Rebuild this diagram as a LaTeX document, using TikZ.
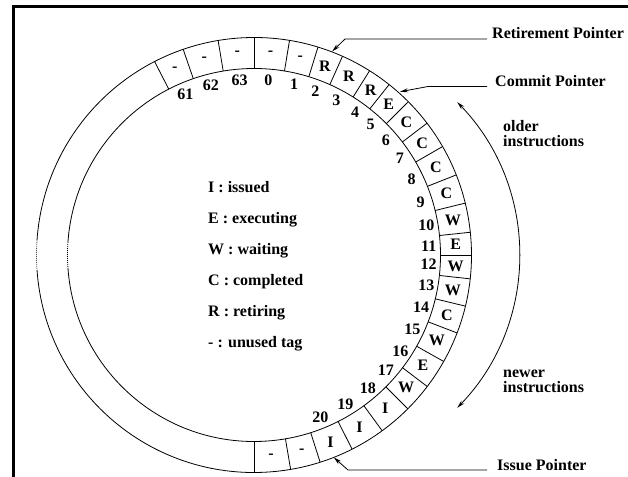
\documentclass[tikz,border=0pt]{standalone}
\usepackage{fontspec}
\setmainfont{Liberation Serif}
\usetikzlibrary{arrows.meta}
\begin{document}
\begin{tikzpicture}[x=1pt,y=1pt,
  ring/.style={line width=0.8pt},
  dotarc/.style={line width=0.8pt, dash pattern=on 0.8pt off 1.2pt},
  lbl/.style={font=\fontsize{16}{15}\selectfont\bfseries, inner sep=0pt},
  ptr/.style={line width=0.8pt, -{Stealth[length=8pt,width=4pt]}},
  dbl/.style={line width=0.8pt, {Stealth[length=8pt,width=4pt]}-{Stealth[length=8pt,width=4pt]}},
]
\useasboundingbox (0,0) rectangle (628,476);
\clip (0,0) rectangle (628,476);
% frame (cropped on right and bottom)
\draw[line width=3pt] (640,469) -- (13.5,469) -- (13.5,-10);
\coordinate (C) at (254,221);
% ring circles
\draw[ring] ([shift={(-176:217.5)}]C) arc[start angle=-176,end angle=176,radius=217.5];
\draw[ring] ([shift={(-176:186.5)}]C) arc[start angle=-176,end angle=176,radius=186.5];
\draw[dotarc] ([shift={(176:217.5)}]C) arc[start angle=176,end angle=184,radius=217.5];
\draw[dotarc] ([shift={(176:186.5)}]C) arc[start angle=176,end angle=184,radius=186.5];
% slot boundaries
\foreach \b in {117.2,109,99.5,90,80.6,72.9,66,57.9,51.6,44.8,37.3,29.9,21.6,13.8,6,0,-6.3,-13.6,-21,-29.3,-37.2,-45,-53.9,-63.2,-72.3,-80.3,-90}
  \draw[ring] ([shift={(\b:186.5)}]C) -- ([shift={(\b:217.5)}]C);
% slot contents
\foreach \a/\t [count=\i] in {113.1/-,104.25/-,94.75/-,85.3/-,76.75/-,69.45/R,61.95/R,54.75/R,48.2/E,41.05/C,33.6/C,25.75/C,17.7/C,9.9/W,3/E,-3.15/W,-9.95/W,-17.3/C,-25.15/W,-33.25/E,-41.1/W,-49.45/I,-58.55/I,-67.75/I,-76.3/-,-85.15/-}
  \node[lbl] (s\i) at ([shift={(\a:202)}]C) {\t};
% tag numbers
\foreach \a/\n in {113.1/61,104.25/62,94.75/63,85.3/0,76.75/1,69.45/2,61.95/3,54.75/4,48.2/5,41.05/6,33.6/7,25.75/8,17.7/9,9.9/10,3/11,-3.15/12,-9.95/13,-17.3/14,-25.15/15,-33.25/16,-41.1/17,-49.45/18,-58.55/19,-67.75/20}
  \node[lbl] (n\n) at ([shift={(\a:175)}]C) {\n};
% legend
\node[lbl, anchor=base west] (lgI) at (208,283) {I : issued};
\node[lbl, anchor=base west] (lgE) at (208,252) {E : executing};
\node[lbl, anchor=base west] (lgW) at (208,221) {W : waiting};
\node[lbl, anchor=base west] (lgC) at (208,190) {C : completed};
\node[lbl, anchor=base west] (lgR) at (208,159) {R : retiring};
\node[lbl, anchor=base west] (lgU) at (208,128) {- : unused tag};
% pointers
\node[lbl, anchor=base west] (ret) at (492,437) {Retirement Pointer};
\node[lbl, anchor=base west] (com) at (495,389) {Commit Pointer};
\node[lbl, anchor=base west] (iss) at (497,6) {Issue Pointer};
\coordinate (rettip) at ([shift={(69:218)}]C);
\coordinate (comtip) at ([shift={(48.2:219)}]C);
\coordinate (isstip) at ([shift={(-68.5:217.5)}]C);
\coordinate (retk) at (345,437);
\coordinate (comk) at (428,389.5);
\coordinate (issk) at (348,6);
\draw[ptr] (487,437) -- (retk) -- (rettip);
\draw[ptr] (487,389.5) -- (comk) -- (comtip);
\draw[ptr] (487,6) -- (issk) -- (isstip);
% older / newer
\coordinate (O) at (299,221);
\draw[dbl] ([shift={(44:220)}]O) arc[start angle=44,end angle=-44,radius=220];
\node[lbl, anchor=base west] (old1) at (503,344) {older};
\node[lbl, anchor=base west] (old2) at (503,329) {instructions};
\node[lbl, anchor=base west] (new1) at (503,98) {newer};
\node[lbl, anchor=base west] (new2) at (503,83) {instructions};
\end{tikzpicture}
\end{document}
